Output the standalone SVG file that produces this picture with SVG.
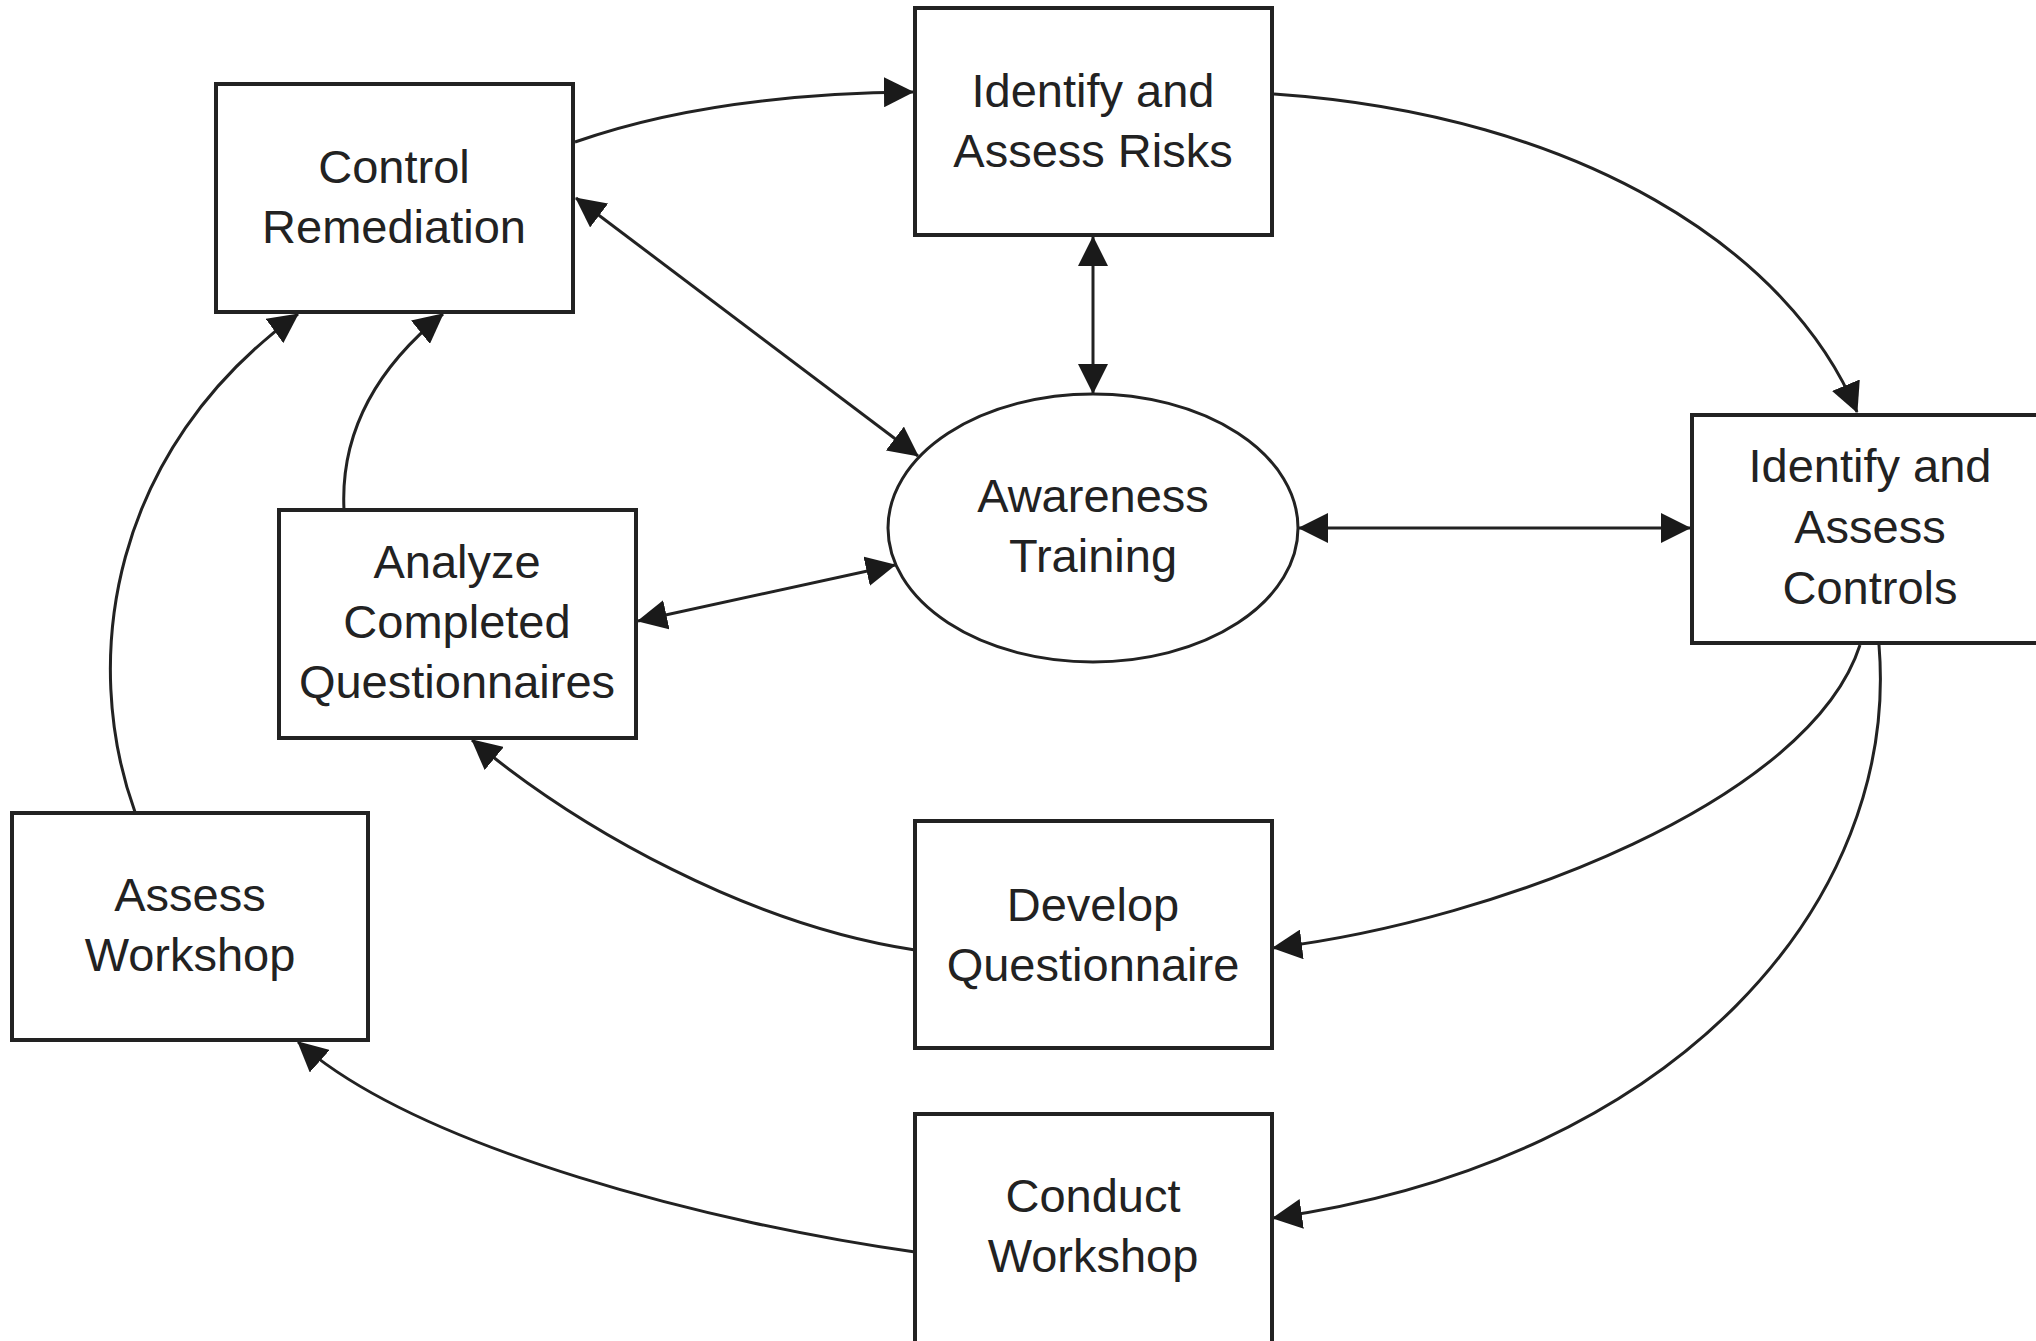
<svg xmlns="http://www.w3.org/2000/svg" width="2036" height="1341" viewBox="0 0 2036 1341">
<style>
.box{fill:#fff;stroke:#222;stroke-width:4}
.ell{fill:#fff;stroke:#222;stroke-width:3}
.lbl{font-family:"Liberation Sans",Arial,sans-serif;font-size:47px;fill:#222;text-anchor:middle}
.con{fill:none;stroke:#222;stroke-width:3}
</style>
<defs>
<marker id="ah" viewBox="0 0 30 30" refX="29" refY="15" markerWidth="30" markerHeight="30" markerUnits="userSpaceOnUse" orient="auto-start-reverse">
<path d="M0,0 L30,15 L0,30 z" fill="#1a1a1a"/>
</marker>
</defs>
<rect width="2036" height="1341" fill="#fff"/>
<g id="connectors">
<path class="con" d="M575,142 C680,105 800,93 913,92" marker-end="url(#ah)"/>
<path class="con" d="M1274,94 C1580,115 1790,250 1857,412" marker-end="url(#ah)"/>
<line class="con" x1="1093" y1="237" x2="1093" y2="393" marker-start="url(#ah)" marker-end="url(#ah)"/>
<line class="con" x1="576" y1="198" x2="918" y2="456" marker-start="url(#ah)" marker-end="url(#ah)"/>
<line class="con" x1="638" y1="621" x2="895" y2="565" marker-start="url(#ah)" marker-end="url(#ah)"/>
<line class="con" x1="1299" y1="528" x2="1690" y2="528" marker-start="url(#ah)" marker-end="url(#ah)"/>
<path class="con" d="M1860,645 C1810,800 1500,920 1273,948" marker-end="url(#ah)"/>
<path class="con" d="M1879,645 C1900,900 1680,1160 1273,1218" marker-end="url(#ah)"/>
<path class="con" d="M915,950 C750,925 580,830 472,740" marker-end="url(#ah)"/>
<path class="con" d="M915,1252 C720,1225 420,1150 298,1042" marker-end="url(#ah)"/>
<path class="con" d="M135,812 C80,660 110,450 298,314" marker-end="url(#ah)"/>
<path class="con" d="M344,510 C340,430 380,365 443,314" marker-end="url(#ah)"/>
</g>
<g id="control-remediation">
<rect class="box" x="216" y="84" width="357" height="228"/>
<text class="lbl" x="394" y="183">Control</text>
<text class="lbl" x="394" y="243">Remediation</text>
</g>
<g id="identify-risks">
<rect class="box" x="915" y="8" width="357" height="227"/>
<text class="lbl" x="1093" y="107">Identify and</text>
<text class="lbl" x="1093" y="167">Assess Risks</text>
</g>
<g id="identify-controls">
<rect class="box" x="1692" y="415" width="360" height="228"/>
<text class="lbl" x="1870" y="482">Identify and</text>
<text class="lbl" x="1870" y="543">Assess</text>
<text class="lbl" x="1870" y="604">Controls</text>
</g>
<g id="awareness-training">
<ellipse class="ell" cx="1093" cy="528" rx="205" ry="134"/>
<text class="lbl" x="1093" y="512">Awareness</text>
<text class="lbl" x="1093" y="572">Training</text>
</g>
<g id="analyze-questionnaires">
<rect class="box" x="279" y="510" width="357" height="228"/>
<text class="lbl" x="457" y="578">Analyze</text>
<text class="lbl" x="457" y="638">Completed</text>
<text class="lbl" x="457" y="698">Questionnaires</text>
</g>
<g id="assess-workshop">
<rect class="box" x="12" y="813" width="356" height="227"/>
<text class="lbl" x="190" y="911">Assess</text>
<text class="lbl" x="190" y="971">Workshop</text>
</g>
<g id="develop-questionnaire">
<rect class="box" x="915" y="821" width="357" height="227"/>
<text class="lbl" x="1093" y="921">Develop</text>
<text class="lbl" x="1093" y="981">Questionnaire</text>
</g>
<g id="conduct-workshop">
<rect class="box" x="915" y="1114" width="357" height="240"/>
<text class="lbl" x="1093" y="1212">Conduct</text>
<text class="lbl" x="1093" y="1272">Workshop</text>
</g>
</svg>
